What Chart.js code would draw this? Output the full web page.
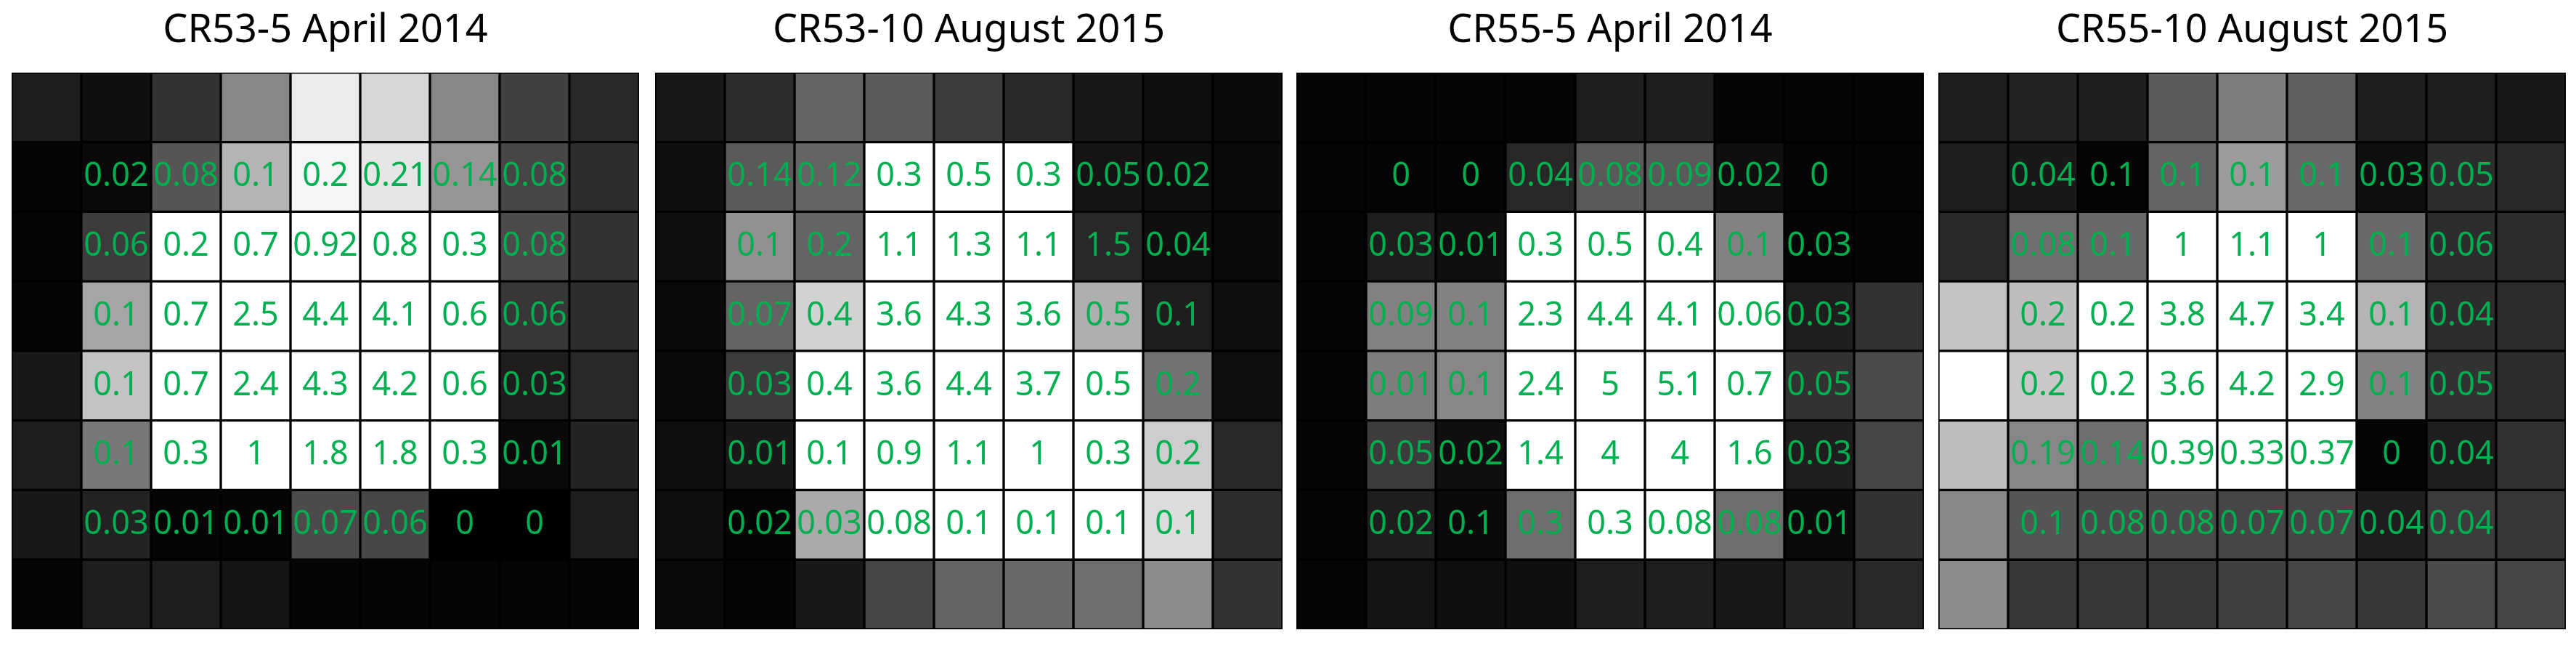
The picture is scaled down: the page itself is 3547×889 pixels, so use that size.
<!DOCTYPE html>
<html>
<head>
<meta charset="utf-8">
<script src="https://cdn.jsdelivr.net/npm/chart.js@4.4.1/dist/chart.umd.min.js"></script>
<style>
  body { margin: 0; background: #fff; width: 3547px; height: 889px; position: relative; overflow: hidden; }
  .panel { position: absolute; top: 0; height: 866px; width: 864px; }
</style>
</head>
<body>
<div class="panel" style="left:16px"><canvas id="c0"></canvas></div>
<div class="panel" style="left:902px"><canvas id="c1"></canvas></div>
<div class="panel" style="left:1785px"><canvas id="c2"></canvas></div>
<div class="panel" style="left:2669px"><canvas id="c3"></canvas></div>
<script>
// panel titles
var titles = ["CR53-5 April 2014", "CR53-10 August 2015", "CR55-5 April 2014", "CR55-10 August 2015"];
var columns = ["1", "2", "3", "4", "5", "6", "7", "8", "9"];

// grey level of every cell (0 black .. 255 white), rows top to bottom
var shade0 = [
  [30,15,50,135,235,215,135,65,40],
  [5,10,85,180,245,230,150,70,45],
  [5,60,255,255,255,255,255,75,50],
  [5,165,255,255,255,255,255,55,45],
  [25,195,255,255,255,255,255,30,40],
  [30,120,255,255,255,255,255,10,35],
  [25,35,5,5,75,70,0,0,30],
  [5,30,30,20,5,5,5,5,5]
];
var shade1 = [
  [25,45,100,90,60,40,25,15,10],
  [15,90,100,255,255,255,20,15,10],
  [15,145,100,255,255,255,40,15,10],
  [10,100,210,255,255,255,175,30,15],
  [10,60,255,255,255,255,255,115,15],
  [15,25,255,255,255,255,255,205,40],
  [15,5,170,255,255,255,255,220,45],
  [10,5,25,70,100,105,110,140,50]
];
var shade2 = [
  [5,5,5,5,30,30,5,5,5],
  [5,5,5,40,90,90,15,5,5],
  [5,30,15,255,255,255,130,5,5],
  [5,130,130,255,255,255,255,30,50],
  [5,125,135,255,255,255,255,50,75],
  [5,60,15,255,255,255,255,30,70],
  [5,30,10,110,255,255,110,10,50],
  [5,20,15,15,30,30,25,35,40]
];
var shade3 = [
  [30,35,30,90,125,95,30,30,25],
  [30,25,5,100,155,105,15,45,40],
  [40,110,105,255,255,255,105,45,45],
  [195,190,255,255,255,255,180,45,45],
  [255,200,255,255,255,255,130,50,45],
  [190,135,110,255,255,255,5,30,50],
  [135,85,75,75,70,70,30,60,55],
  [140,55,55,55,65,70,55,75,70]
];

// values printed in the inner cells (rows 2-7, columns 2-8)
var values0 = [
  ["0.02","0.08","0.1","0.2","0.21","0.14","0.08"],
  ["0.06","0.2","0.7","0.92","0.8","0.3","0.08"],
  ["0.1","0.7","2.5","4.4","4.1","0.6","0.06"],
  ["0.1","0.7","2.4","4.3","4.2","0.6","0.03"],
  ["0.1","0.3","1","1.8","1.8","0.3","0.01"],
  ["0.03","0.01","0.01","0.07","0.06","0","0"]
];
var values1 = [
  ["0.14","0.12","0.3","0.5","0.3","0.05","0.02"],
  ["0.1","0.2","1.1","1.3","1.1","1.5","0.04"],
  ["0.07","0.4","3.6","4.3","3.6","0.5","0.1"],
  ["0.03","0.4","3.6","4.4","3.7","0.5","0.2"],
  ["0.01","0.1","0.9","1.1","1","0.3","0.2"],
  ["0.02","0.03","0.08","0.1","0.1","0.1","0.1"]
];
var values2 = [
  ["0","0","0.04","0.08","0.09","0.02","0"],
  ["0.03","0.01","0.3","0.5","0.4","0.1","0.03"],
  ["0.09","0.1","2.3","4.4","4.1","0.06","0.03"],
  ["0.01","0.1","2.4","5","5.1","0.7","0.05"],
  ["0.05","0.02","1.4","4","4","1.6","0.03"],
  ["0.02","0.1","0.3","0.3","0.08","0.08","0.01"]
];
var values3 = [
  ["0.04","0.1","0.1","0.1","0.1","0.03","0.05"],
  ["0.08","0.1","1","1.1","1","0.1","0.06"],
  ["0.2","0.2","3.8","4.7","3.4","0.1","0.04"],
  ["0.2","0.2","3.6","4.2","2.9","0.1","0.05"],
  ["0.19","0.14","0.39","0.33","0.37","0","0.04"],
  ["0.1","0.08","0.08","0.07","0.07","0.04","0.04"]
];

var shades = [shade0, shade1, shade2, shade3];
var values = [values0, values1, values2, values3];

function grey(v) {
  return "rgb(" + v + "," + v + "," + v + ")";
}

var cellLabels = {
  id: "cellLabels",
  afterDatasetsDraw: function(chart, args, opts) {
    var ctx = chart.ctx;
    ctx.save();
    ctx.fillStyle = "#00b050";
    ctx.font = "45px 'Noto Sans'";
    ctx.textAlign = "center";
    ctx.textBaseline = "middle";
    opts.labels.forEach(function(row, r) {
      var bars = chart.getDatasetMeta(r + 1).data;
      row.forEach(function(txt, c) {
        var bar = bars[c + 1];
        ctx.fillText(txt, bar.x, (bar.y + bar.base) / 2);
      });
    });
    ctx.restore();
  }
};

function buildPanel(i) {
  var datasets = shades[i].map(function(row, r) {
    return {
      data: row.map(function() { return [r, r + 1]; }),
      backgroundColor: row.map(grey),
      borderColor: "#000",
      borderWidth: 2,
      borderSkipped: false,
      barPercentage: 1,
      categoryPercentage: 1,
      grouped: false
    };
  });
  new Chart(document.getElementById("c" + i), {
    type: "bar",
    data: { labels: columns, datasets: datasets },
    options: {
      responsive: true,
      maintainAspectRatio: false,
      animation: false,
      layout: { padding: 0 },
      scales: {
        x: { display: false },
        y: { display: false, min: 0, max: 8, reverse: true }
      },
      plugins: {
        legend: { display: false },
        tooltip: { enabled: false },
        title: {
          display: true,
          text: titles[i],
          color: "#000",
          font: { family: "'Noto Sans'", size: 54, weight: "normal" },
          padding: { top: 10, bottom: 25 }
        },
        cellLabels: { labels: values[i] }
      }
    },
    plugins: [cellLabels]
  });
}

for (var i = 0; i < 4; i++) {
  buildPanel(i);
}
</script>
</body>
</html>
